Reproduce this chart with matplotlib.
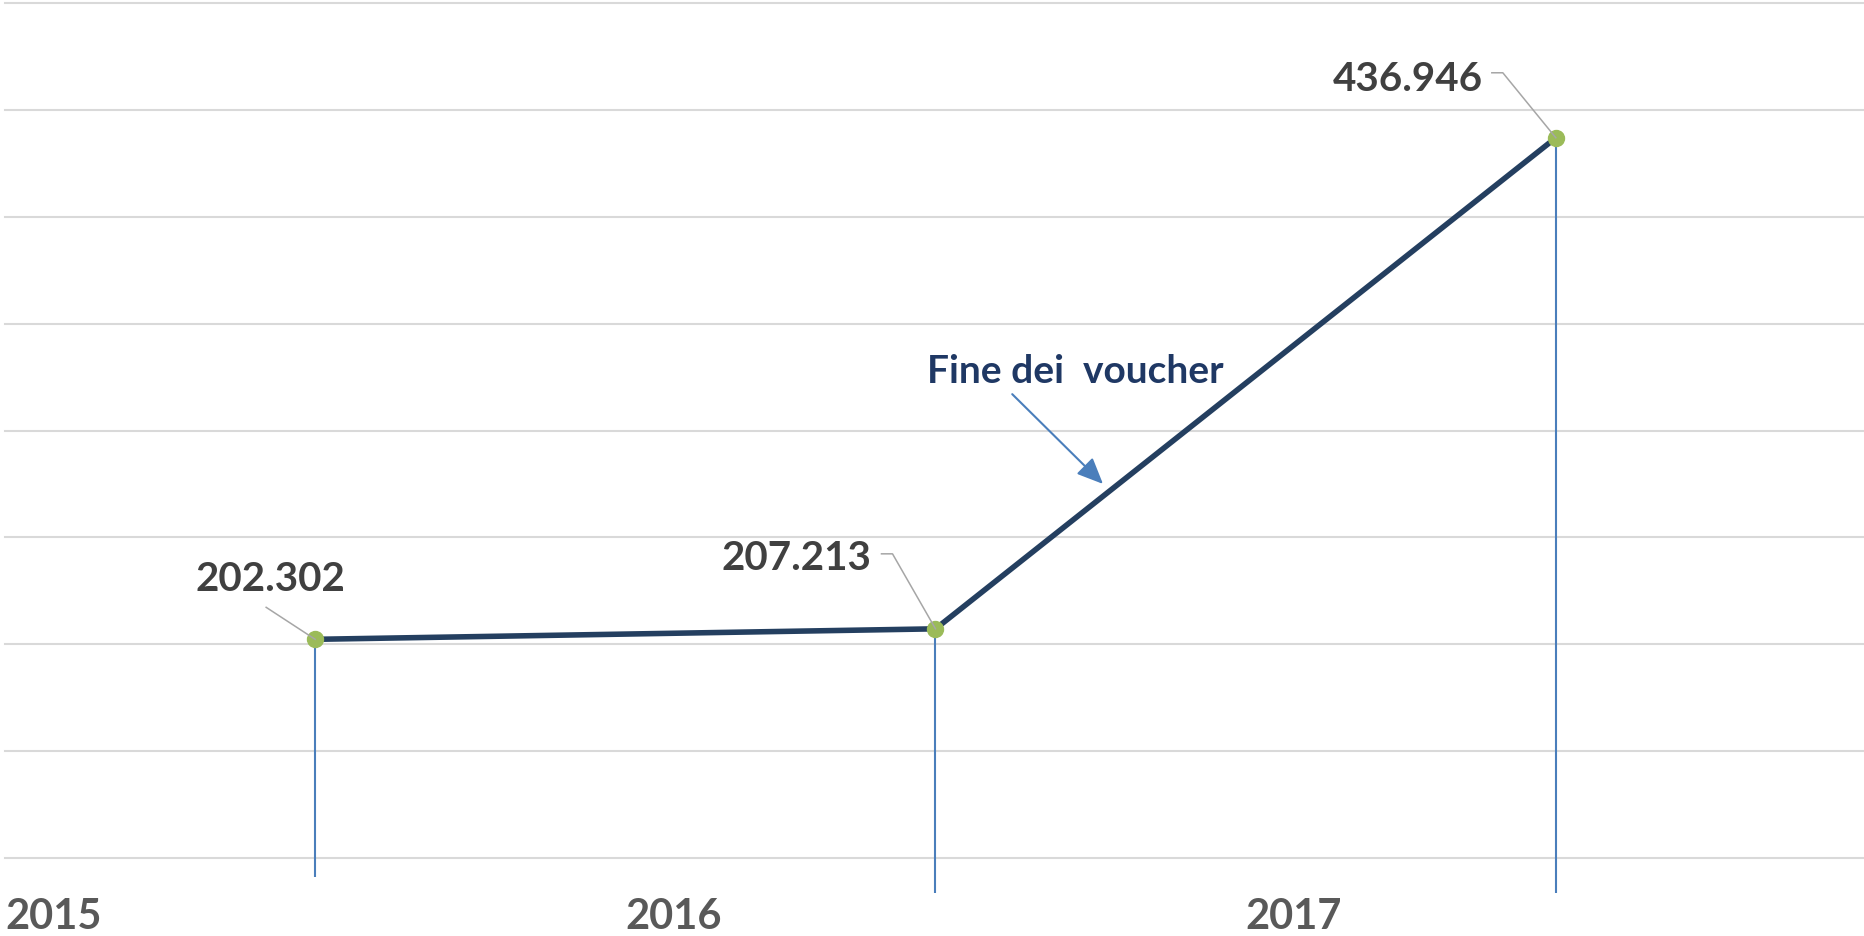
import matplotlib
matplotlib.use("Agg")
import matplotlib.pyplot as plt
from matplotlib.lines import Line2D
from matplotlib.transforms import IdentityTransform, blended_transform_factory

# ---- data ----
years = ["2015", "2016", "2017"]
values = [202302, 207213, 436946]
annotation_text = "Fine dei  voucher"

# ---- style ----
FONT = ["Lato", "DejaVu Sans"]
LINE_COLOR = "#243F60"
MARKER_COLOR = "#9BBB59"
DROP_COLOR = "#4A7EBB"
GRID_COLOR = "#D9D9D9"
LABEL_COLOR = "#404040"
TICK_COLOR = "#595959"
NOTE_COLOR = "#1F3864"
LEADER_COLOR = "#A6A6A6"

W, H, DPI = 1865, 937, 100
fig = plt.figure(figsize=(W / DPI, H / DPI), dpi=DPI)
# axes: left px 5, right px 1866, top px 4, bottom px 859
ax = fig.add_axes([5 / W, (H - 859) / H, 1861 / W, 855 / H])

x = list(range(len(years)))
ax.set_xlim(-0.5, len(years) - 0.5)
ax.set_ylim(100000, 500000)
ax.set_yticks(range(100000, 500001, 50000))
ax.set_yticklabels([])
ax.tick_params(axis="y", length=0)
for s in ax.spines.values():
    s.set_visible(False)
ax.grid(axis="y", color=GRID_COLOR, linewidth=1.5)
ax.set_axisbelow(True)
for gl in ax.get_ygridlines():
    gl.set_clip_on(False)

# category labels at the start of each category
ax.set_xticks([i - 0.5 for i in x])
ax.set_xticklabels(years)
ax.tick_params(axis="x", length=0, pad=50.5)
for lbl in ax.get_xticklabels():
    lbl.set_horizontalalignment("left")
    lbl.set_verticalalignment("baseline")
    lbl.set_fontfamily(FONT)
    lbl.set_fontweight("bold")
    lbl.set_fontsize(30)
    lbl.set_color(TICK_COLOR)

# drop lines (down below the axis)
drop_bottoms = [-0.0222, -0.041, -0.041]
bt = blended_transform_factory(ax.transData, ax.transAxes)
for xi, v, b in zip(x, values, drop_bottoms):
    yfrac = (v - 100000) / 400000
    ax.plot([xi, xi], [yfrac, b], transform=bt, color=DROP_COLOR,
            linewidth=1.5, clip_on=False, zorder=2, solid_capstyle="butt")

# main line
ax.plot(x, values, color=LINE_COLOR, linewidth=4.0, zorder=3,
        solid_capstyle="round")
ax.plot(x, values, linestyle="none", marker="o", markersize=11.5,
        markerfacecolor=MARKER_COLOR, markeredgecolor=MARKER_COLOR, zorder=5)

# data labels with leader lines (offsets in pixels)
label_offsets = [(-45, 49), (-139, 60), (-148, 48)]
leader_paths = [[(-49, 32)], [(-54, 75), (-43, 75)], [(-64, 65), (-53, 65)]]
for xi, v, (dx, dy), path in zip(x, values, label_offsets, leader_paths):
    txt = f"{v:,}".replace(",", ".")
    ax.annotate(txt, xy=(xi, v), xytext=(dx, dy), textcoords="offset pixels",
                ha="center", va="baseline", fontsize=29, fontweight="bold",
                family=FONT, color=LABEL_COLOR, zorder=6)
    px, py = ax.transData.transform((xi, v))
    xs = [px + ox for ox, oy in path] + [px]
    ys = [py + oy for ox, oy in path] + [py]
    fig.add_artist(Line2D(xs, ys, transform=IdentityTransform(),
                          color=LEADER_COLOR, linewidth=1.1, zorder=4))

# annotation with arrow
ax.text(1.2252, 322700, annotation_text, ha="center", va="baseline",
        fontsize=28, fontweight="bold", family=FONT, color=NOTE_COLOR)
ax.annotate("", xy=(1.27, 275000), xytext=(1.1237, 317000),
            arrowprops=dict(arrowstyle="-|>,head_length=0.8,head_width=0.35",
                            mutation_scale=20, color=DROP_COLOR, lw=1.5,
                            shrinkA=0, shrinkB=0))

fig.savefig("out.png", dpi=DPI, facecolor="white")
